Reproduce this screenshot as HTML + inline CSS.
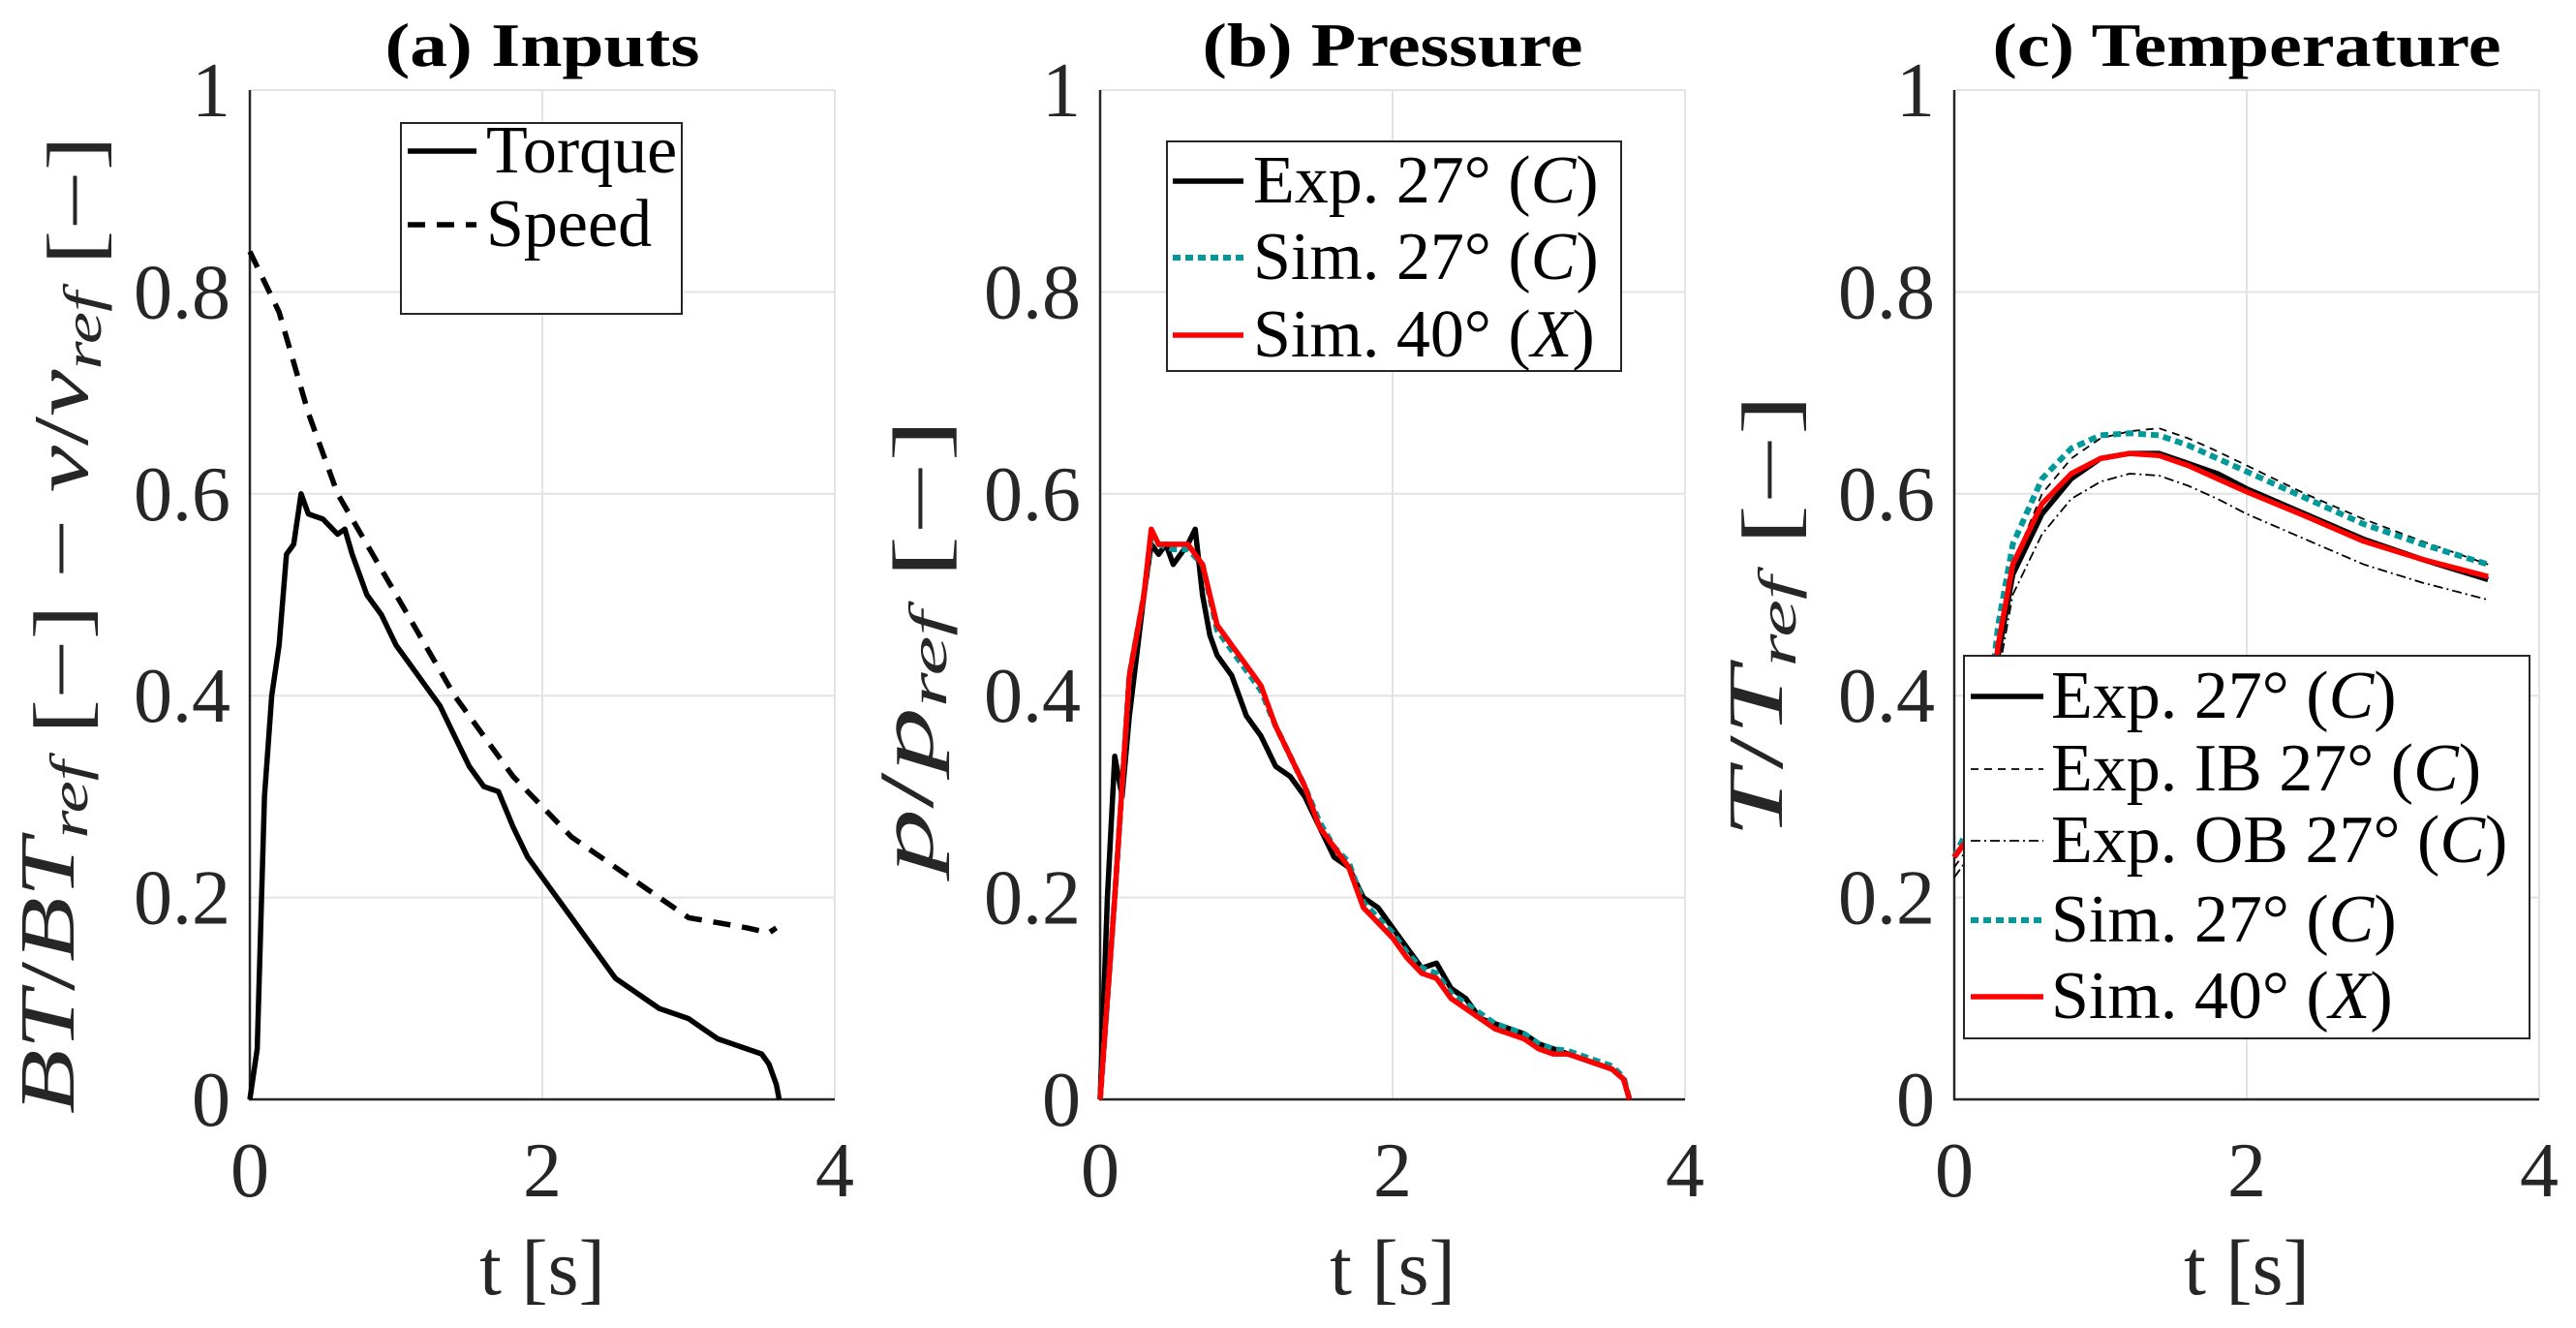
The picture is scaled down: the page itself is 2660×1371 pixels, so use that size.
<!DOCTYPE html>
<html><head><meta charset="utf-8"><style>
html,body{margin:0;padding:0;background:#fff;}
svg{display:block;font-family:"Liberation Serif",serif;}
svg text{font-family:"Liberation Serif",serif;}
</style></head><body>
<svg id="fig" width="2660" height="1371" viewBox="0 0 2660 1371" xmlns="http://www.w3.org/2000/svg">
<rect width="2660" height="1371" fill="#fff"/>
<g id="pa"></g>
<g id="pb"></g>
<g id="pc"></g>
</svg>
<script>
const yTicks=[0,0.2,0.4,0.6,0.8,1];
const yTickLabels=["0","0.2","0.4","0.6","0.8","1"];
const xTicks=[0,2,4];
const xTickLabels=["0","2","4"];
// (a) inputs
const torqueT=[0,0.05,0.1,0.15,0.2,0.25,0.3,0.35,0.4,0.5,0.6,0.65,0.7,0.8,0.9,1.0,1.1,1.2,1.3,1.4,1.5,1.6,1.7,1.8,1.9,2.0,2.1,2.2,2.3,2.4,2.5,2.6,2.7,2.8,2.9,3.0,3.1,3.2,3.3,3.4,3.5,3.55,3.6,3.62];
const torqueV=[0,0.05,0.3,0.4,0.45,0.54,0.55,0.6,0.58,0.575,0.56,0.565,0.54,0.5,0.48,0.45,0.43,0.41,0.39,0.36,0.33,0.31,0.305,0.27,0.24,0.22,0.2,0.18,0.16,0.14,0.12,0.11,0.1,0.09,0.085,0.08,0.07,0.06,0.055,0.05,0.045,0.035,0.015,0];
const speedT=[0,0.2,0.4,0.6,0.8,1.0,1.2,1.4,1.6,1.8,2.0,2.2,2.4,2.6,2.8,3.0,3.2,3.4,3.55,3.6];
const speedV=[0.84,0.78,0.68,0.6,0.55,0.5,0.45,0.4,0.36,0.32,0.29,0.26,0.24,0.22,0.2,0.18,0.175,0.17,0.165,0.17];
// (b) pressure
const pExpT=[0,0.05,0.1,0.15,0.2,0.3,0.35,0.4,0.45,0.5,0.55,0.6,0.65,0.7,0.75,0.8,0.9,1.0,1.1,1.2,1.3,1.4,1.5,1.6,1.7,1.8,1.9,2.0,2.1,2.2,2.3,2.4,2.5,2.6,2.7,2.8,2.9,3.0,3.1,3.2,3.3,3.4,3.5,3.58,3.62];
const pExpV=[0,0.2,0.34,0.3,0.38,0.5,0.55,0.54,0.55,0.53,0.54,0.55,0.565,0.5,0.46,0.44,0.42,0.38,0.36,0.33,0.32,0.3,0.27,0.24,0.23,0.2,0.19,0.17,0.15,0.13,0.135,0.11,0.1,0.08,0.075,0.07,0.065,0.055,0.05,0.045,0.04,0.035,0.03,0.02,0];
const pSim27T=[0,0.1,0.2,0.3,0.35,0.4,0.5,0.6,0.7,0.8,0.9,1.0,1.1,1.2,1.3,1.4,1.5,1.6,1.7,1.8,1.9,2.0,2.1,2.2,2.3,2.4,2.5,2.6,2.7,2.8,2.9,3.0,3.1,3.2,3.3,3.4,3.5,3.58,3.62];
const pSim27V=[0,0.2,0.42,0.5,0.56,0.55,0.545,0.545,0.53,0.465,0.445,0.425,0.405,0.37,0.34,0.31,0.275,0.25,0.235,0.195,0.18,0.165,0.145,0.13,0.125,0.105,0.095,0.085,0.075,0.07,0.065,0.055,0.05,0.048,0.043,0.038,0.033,0.022,0];
const pSim40T=[0,0.1,0.2,0.3,0.35,0.4,0.5,0.6,0.7,0.8,0.9,1.0,1.1,1.2,1.3,1.4,1.5,1.6,1.7,1.8,1.9,2.0,2.1,2.2,2.3,2.4,2.5,2.6,2.7,2.8,2.9,3.0,3.1,3.2,3.3,3.4,3.5,3.58,3.62];
const pSim40V=[0,0.2,0.42,0.5,0.565,0.55,0.55,0.55,0.53,0.47,0.45,0.43,0.41,0.37,0.34,0.31,0.27,0.25,0.23,0.19,0.175,0.16,0.14,0.125,0.12,0.1,0.09,0.08,0.07,0.065,0.06,0.05,0.045,0.045,0.04,0.035,0.03,0.02,0];
// (c) temperature
const tT=[0,0.1,0.2,0.3,0.4,0.6,0.8,1.0,1.2,1.4,1.6,1.8,2.0,2.4,2.8,3.2,3.65];
const tExpV=[0.24,0.26,0.32,0.44,0.52,0.58,0.615,0.635,0.64,0.64,0.63,0.62,0.605,0.58,0.555,0.535,0.515];
const tIBV=[0.23,0.25,0.31,0.44,0.53,0.6,0.635,0.655,0.662,0.665,0.655,0.642,0.628,0.6,0.575,0.553,0.53];
const tOBV=[0.22,0.24,0.3,0.42,0.5,0.56,0.595,0.612,0.62,0.618,0.608,0.595,0.58,0.555,0.53,0.512,0.495];
const tSim27V=[0.24,0.27,0.34,0.47,0.55,0.615,0.645,0.658,0.66,0.658,0.648,0.635,0.622,0.596,0.57,0.55,0.53];
const tSim40V=[0.24,0.26,0.33,0.45,0.53,0.59,0.62,0.635,0.64,0.638,0.628,0.615,0.602,0.578,0.553,0.535,0.518];

const NS="http://www.w3.org/2000/svg";
const FF='"Liberation Serif", serif';
const Y0=1135,Y1=93,W=604;
function mk(tag,attrs,parent){const e=document.createElementNS(NS,tag);for(const k in attrs)e.setAttribute(k,attrs[k]);if(tag==='text')e.setAttribute('font-family',FF);parent.appendChild(e);return e;}
function xs(x0,t){return x0+t/4*W;}
function ys(v){return Y0+(Y1-Y0)*v;}
function axes(g,x0){
  yTicks.forEach((v,i)=>{
    const l=mk('line',{x1:x0,x2:x0+W,y1:ys(v),y2:ys(v),stroke:'#e3e3e3','stroke-width':2},g);
    
    
    const t=mk('text',{x:x0-20,y:ys(v)+27,'text-anchor':'end','font-size':80,fill:'#262626'},g);
    t.textContent=yTickLabels[i];
    
    
  });
  xTicks.forEach((v,i)=>{
    if(v>0){const l=mk('line',{x1:xs(x0,v),x2:xs(x0,v),y1:Y0,y2:Y1,stroke:'#e3e3e3','stroke-width':2},g);
    
    }
    const t=mk('text',{x:xs(x0,v),y:1235,'text-anchor':'middle','font-size':80,fill:'#262626'},g);
    t.textContent=xTickLabels[i];
    
    
  });
  const ax=mk('path',{d:`M${x0} ${Y1}V${Y0}H${x0+W}`,fill:'none',stroke:'#262626','stroke-width':2.5},g);
  
  
  const xl=mk('text',{x:x0+W/2,y:1336,'text-anchor':'middle','font-size':82,fill:'#262626'},g);
  xl.textContent='t [s]';
  
  
}
function series(g,x0,T,V,style,name){
  const d=T.map((t,i)=>(i?'L':'M')+xs(x0,t).toFixed(1)+' '+ys(V[i]).toFixed(1)).join(' ');
  const p=mk('path',Object.assign({d:d,fill:'none','stroke-linejoin':'round'},style),g);
  
  
}
function title(g,x0,txt,len){
  const t=mk('text',{x:x0+W/2,y:68,'text-anchor':'middle','font-size':64,'font-weight':'bold',fill:'#000',textLength:len,lengthAdjust:'spacingAndGlyphs'},g);
  t.textContent=txt;
  
  
}
function ylabel(g,cx,cy,len,html){
  const t=mk('text',{x:0,y:0,'text-anchor':'middle','font-size':80,fill:'#262626',transform:`translate(${cx},${cy}) rotate(-90)`,textLength:len,lengthAdjust:'spacingAndGlyphs'},g);
  t.innerHTML=html;
  
  
}
function legend(g,box,x1,x2,tx,rows){
  const r=mk('rect',{x:box[0],y:box[1],width:box[2],height:box[3],fill:'#fff',stroke:'#262626','stroke-width':2},g);
  
  
  rows.forEach(row=>{
    const l=mk('line',Object.assign({x1:x1,x2:x2,y1:row.y,y2:row.y},row.style),g);
    
    
    const t=mk('text',{x:tx,y:row.y+22,'font-size':70,fill:'#000'},g);
    t.innerHTML=row.label;
    
    
  });
}
const SOLID={stroke:'#000','stroke-width':5.5};
const DASH={stroke:'#000','stroke-width':5.5,'stroke-dasharray':'18 12'};
const THINDASH={stroke:'#000','stroke-width':1.8,'stroke-dasharray':'8 6'};
const DASHDOT={stroke:'#000','stroke-width':1.8,'stroke-dasharray':'10 4 2 4'};
const TEAL={stroke:'#009999','stroke-width':6,'stroke-dasharray':'8 5'};
const RED={stroke:'#ff0000','stroke-width':5.5};
const I=s=>`<tspan font-style="italic">${s}</tspan>`;
const SUB=s=>`<tspan font-style="italic" font-size="55" dy="14">${s}</tspan><tspan dy="-14"></tspan>`;

// panel a
const A=258, ga=document.getElementById('pa');
axes(ga,A); title(ga,A,'(a) Inputs',325);
ylabel(ga,76,645,1010,`${I('BT')}/${I('BT')}${SUB('ref')} [−] − ${I('v')}/${I('v')}${SUB('ref')} [−]`);
series(ga,A,speedT,speedV,DASH,'speed-line');
series(ga,A,torqueT,torqueV,SOLID,'torque-line');
legend(ga,[414,127,290,197],421,492,502,[{y:156,style:SOLID,label:'Torque'},{y:232,style:DASH,label:'Speed'}]);

// panel b
const B=1136, gb=document.getElementById('pb');
axes(gb,B); title(gb,B,'(b) Pressure',393);
ylabel(gb,963,667,470,`${I('p')}/${I('p')}${SUB('ref')} [−]`);
series(gb,B,pExpT,pExpV,SOLID,'pressure-exp-27');
series(gb,B,pSim27T,pSim27V,TEAL,'pressure-sim-27');
series(gb,B,pSim40T,pSim40V,RED,'pressure-sim-40');
legend(gb,[1205,146,469,237],1211,1284,1294,[
 {y:187,style:SOLID,label:`Exp. 27° (${I('C')})`},
 {y:266,style:TEAL,label:`Sim. 27° (${I('C')})`},
 {y:346,style:RED,label:`Sim. 40° (${I('X')})`}]);

// panel c
const C=2018, gc=document.getElementById('pc');
axes(gc,C); title(gc,C,'(c) Temperature',525);
ylabel(gc,1840,636,458,`${I('T')}/${I('T')}${SUB('ref')} [−]`);
series(gc,C,tT,tIBV,THINDASH,'temp-exp-ib');
series(gc,C,tT,tOBV,DASHDOT,'temp-exp-ob');
series(gc,C,tT,tExpV,SOLID,'temp-exp-27');
series(gc,C,tT,tSim27V,TEAL,'temp-sim-27');
series(gc,C,tT,tSim40V,RED,'temp-sim-40');
legend(gc,[2028,677,584,395],2035,2110,2118,[
 {y:719,style:SOLID,label:`Exp. 27° (${I('C')})`},
 {y:794,style:THINDASH,label:`Exp. IB 27° (${I('C')})`},
 {y:868,style:DASHDOT,label:`Exp. OB 27° (${I('C')})`},
 {y:950,style:TEAL,label:`Sim. 27° (${I('C')})`},
 {y:1029,style:RED,label:`Sim. 40° (${I('X')})`}]);
</script>
</body></html>
